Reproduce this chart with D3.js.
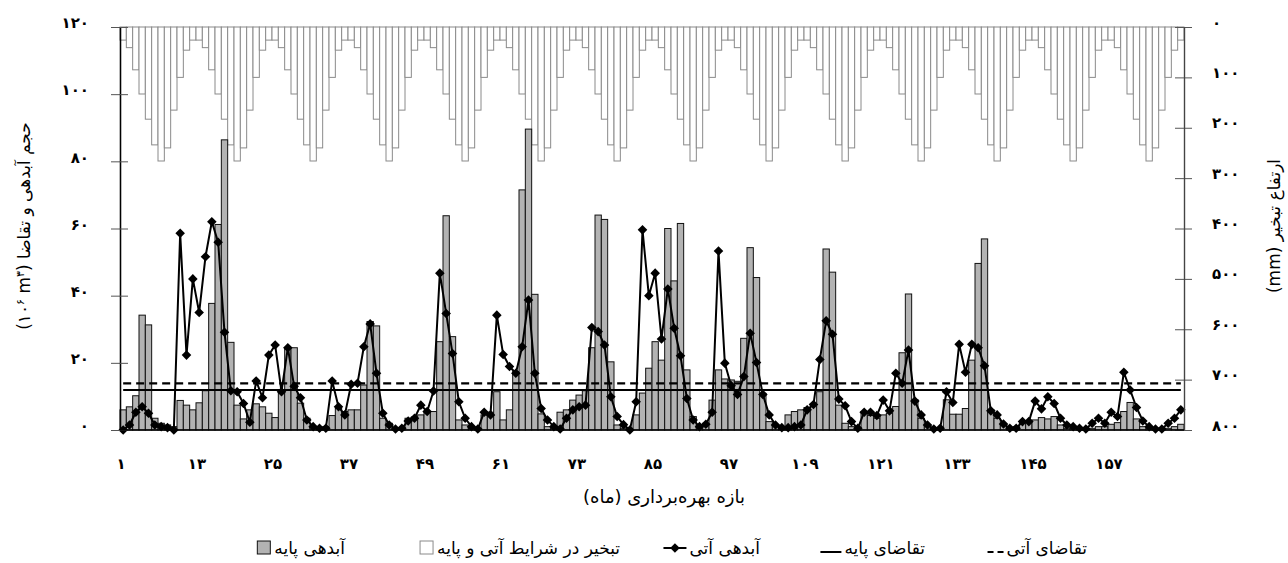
<!DOCTYPE html>
<html>
<head>
<meta charset="utf-8">
<script src="https://cdn.jsdelivr.net/npm/d3@7/dist/d3.min.js"></script>
<style>
  html, body { margin: 0; padding: 0; background: #fff; }
  svg { display: block; }
  text { font-family: "DejaVu Sans", "Noto Sans", sans-serif; fill: #000; }
</style>
</head>
<body>
<svg id="chart" width="1288" height="563"></svg>
<script>
// ---------------- DATA ----------------
const months = d3.range(1, 169);

// base inflow (gray bars), 10^6 m3
const baseInflow = [
  6.0, 6.9, 10.2, 34.2, 31.3, 3.5, 2.0, 1.5, 1.0, 8.8, 7.4, 6.0,
  8.1, 11.7, 37.7, 61.2, 86.4, 26.1, 7.4, 3.3, 6.0, 7.8, 6.9, 5.0,
  3.7, 11.0, 24.5, 24.5, 8.0, 3.5, 1.0, 0.5, 1.0, 4.3, 6.4, 5.5,
  6.0, 6.0, 13.4, 32.3, 31.0, 3.5, 2.0, 0.5, 0.5, 3.5, 3.9, 4.5,
  5.3, 5.5, 26.3, 63.8, 27.8, 3.0, 1.5, 0.5, 0.5, 4.5, 5.3, 11.4,
  3.0, 6.0, 17.4, 71.5, 89.6, 40.4, 4.8, 1.0, 1.0, 5.3, 6.0, 8.9,
  10.4, 11.7, 24.5, 64.0, 62.7, 20.3, 1.5, 0.5, 0.5, 4.5, 11.0, 18.4,
  26.3, 20.8, 60.0, 44.4, 61.5, 17.9, 4.0, 1.5, 2.0, 8.9, 17.9, 15.2,
  14.9, 14.5, 27.3, 54.3, 45.4, 10.9, 2.5, 1.5, 1.0, 4.5, 5.5, 6.0,
  6.7, 7.9, 11.4, 53.9, 47.0, 7.4, 2.0, 1.0, 0.5, 5.5, 4.3, 3.5,
  4.5, 5.0, 7.0, 23.0, 40.5, 9.0, 3.5, 1.5, 0.5, 0.5, 9.0, 4.7,
  4.7, 6.4, 20.8, 49.6, 56.9, 6.0, 3.5, 1.5, 0.5, 1.0, 2.0, 2.2,
  3.0, 3.7, 3.3, 4.0, 1.5, 0.5, 0.5, 0.5, 0.5, 0.5, 1.0, 1.0,
  1.7, 2.2, 5.5, 8.2, 3.3, 1.0, 0.5, 0.5, 0.5, 0.5, 1.0, 1.7
];

// future inflow (line with diamonds), 10^6 m3
const futureInflow = [
  0.0, 1.5, 5.3, 6.9, 5.0, 1.5, 1.0, 0.7, 0.0, 58.6, 22.3, 45.0,
  35.0, 51.6, 62.0, 55.9, 29.1, 11.7, 11.4, 7.9, 2.3, 14.6, 9.6, 22.3,
  25.3, 11.4, 24.5, 13.0, 9.6, 3.0, 1.0, 0.5, 0.5, 14.6, 6.9, 4.5,
  13.6, 13.9, 24.8, 31.6, 16.9, 5.0, 1.5, 0.3, 0.5, 2.7, 3.5, 7.4,
  5.5, 11.6, 46.7, 34.7, 22.8, 8.4, 3.5, 1.0, 0.3, 5.3, 4.5, 34.2,
  22.5, 18.9, 16.9, 24.8, 38.7, 16.9, 6.4, 3.0, 1.0, 0.3, 3.5, 6.0,
  6.9, 7.4, 30.5, 29.3, 25.3, 9.9, 4.0, 1.6, 0.0, 8.4, 59.6, 40.0,
  46.7, 27.1, 42.0, 30.3, 22.1, 9.4, 3.0, 1.0, 1.7, 5.3, 53.3, 19.9,
  13.2, 10.6, 15.9, 28.8, 20.1, 10.6, 4.5, 1.5, 0.7, 0.7, 1.0, 1.5,
  6.0, 7.6, 21.0, 32.5, 28.5, 9.2, 7.2, 2.5, 0.5, 5.3, 5.3, 4.3,
  8.9, 5.7, 16.9, 13.9, 23.8, 8.6, 4.5, 1.5, 0.3, 0.5, 11.4, 8.2,
  25.5, 17.2, 25.5, 24.5, 19.1, 5.7, 4.5, 1.8, 0.5, 0.5, 2.5, 2.5,
  8.6, 6.3, 9.9, 7.9, 3.5, 1.5, 1.0, 0.5, 0.3, 2.0, 3.5, 2.0,
  5.3, 4.0, 17.2, 11.9, 6.7, 2.7, 1.0, 0.3, 0.3, 2.0, 3.5, 6.0
];

// evaporation (mm), same in base and future conditions
const evaporation = [
  26, 41, 85, 133, 183, 234, 266, 240, 165, 100, 46, 26,
  26, 41, 85, 133, 183, 234, 266, 240, 165, 100, 46, 26,
  26, 41, 85, 133, 183, 234, 266, 240, 165, 100, 46, 26,
  26, 41, 85, 133, 183, 234, 266, 240, 165, 100, 46, 26,
  26, 41, 85, 133, 183, 234, 266, 240, 165, 100, 46, 26,
  26, 41, 85, 133, 183, 234, 266, 240, 165, 100, 46, 26,
  26, 41, 85, 133, 183, 234, 266, 240, 165, 100, 46, 26,
  26, 41, 85, 133, 183, 234, 266, 240, 165, 100, 46, 26,
  26, 41, 85, 133, 183, 234, 266, 240, 165, 100, 46, 26,
  26, 41, 85, 133, 183, 234, 266, 240, 165, 100, 46, 26,
  26, 41, 85, 133, 183, 234, 266, 240, 165, 100, 46, 26,
  26, 41, 85, 133, 183, 234, 266, 240, 165, 100, 46, 26,
  26, 41, 85, 133, 183, 234, 266, 240, 165, 100, 46, 26,
  26, 41, 85, 133, 183, 234, 266, 240, 165, 100, 46, 26
];

const baseDemand = 11.9;
const futureDemand = 13.9;

const xTickMonths = [1, 13, 25, 37, 49, 61, 73, 85, 97, 109, 121, 133, 145, 157];
const leftTicks = [0, 20, 40, 60, 80, 100, 120];
const rightTicks = [0, 100, 200, 300, 400, 500, 600, 700, 800];

const xTitle = "بازه بهره‌برداری (ماه)";
const rightTitle = "ارتفاع تبخیر";
const leftTitle = "حجم آبدهی و تقاضا";
const legendLabels = {
  base: "آبدهی پایه",
  evap: "تبخیر در شرایط آتی و پایه",
  future: "آبدهی آتی",
  baseDemand: "تقاضای پایه",
  futureDemand: "تقاضای آتی"
};

// ---------------- DRAW ----------------
const fa = n => String(n).replace(/\d/g, d => "۰۱۲۳۴۵۶۷۸۹"[+d]);

const svg = d3.select("#chart");
const L = 120, R = 1184, T = 27, B = 430;

const x = d3.scaleBand().domain(months).range([L, R]).padding(0);
const yL = d3.scaleLinear().domain([0, 120]).range([B, T]);
const yR = d3.scaleLinear().domain([0, 800]).range([T, B]);
const cx = m => x(m) + x.bandwidth() / 2;

// evaporation bars (hanging from top)
svg.append("g").selectAll("rect")
  .data(months)
  .join("rect")
  .attr("x", m => x(m))
  .attr("y", yR(0))
  .attr("width", x.bandwidth())
  .attr("height", (m, i) => yR(evaporation[i]) - yR(0))
  .attr("fill", "#fff")
  .attr("stroke", "#8a8a8a")
  .attr("stroke-width", 1);

// base inflow bars
svg.append("g").selectAll("rect")
  .data(months)
  .join("rect")
  .attr("x", m => x(m))
  .attr("y", (m, i) => yL(baseInflow[i]))
  .attr("width", x.bandwidth())
  .attr("height", (m, i) => yL(0) - yL(baseInflow[i]))
  .attr("fill", "#b3b3b3")
  .attr("stroke", "#111")
  .attr("stroke-width", 1);

// demand lines
const first = months[0], last = months[months.length - 1];
svg.append("line")
  .attr("x1", cx(first)).attr("x2", cx(last))
  .attr("y1", yL(baseDemand)).attr("y2", yL(baseDemand))
  .attr("stroke", "#000").attr("stroke-width", 2);
svg.append("line")
  .attr("x1", cx(first)).attr("x2", cx(last))
  .attr("y1", yL(futureDemand)).attr("y2", yL(futureDemand))
  .attr("stroke", "#000").attr("stroke-width", 2.2)
  .attr("stroke-dasharray", "8,5");

// future inflow line
const line = d3.line().x((d, i) => cx(months[i])).y(d => yL(d));
svg.append("path")
  .datum(futureInflow)
  .attr("d", line)
  .attr("fill", "none")
  .attr("stroke", "#000")
  .attr("stroke-width", 2)
  .attr("stroke-linejoin", "round");

const diamond = d3.symbol().type(d3.symbolSquare).size(46);
svg.append("g").selectAll("path")
  .data(futureInflow)
  .join("path")
  .attr("d", diamond)
  .attr("transform", (d, i) => `translate(${cx(months[i])},${yL(d)}) rotate(45)`)
  .attr("fill", "#000");

// left axis
const gl = svg.append("g").attr("transform", `translate(${L},0)`);
gl.call(d3.axisLeft(yL).tickValues(leftTicks).tickSizeInner(9).tickSizeOuter(0)
  .tickPadding(22).tickFormat(fa));
gl.append("g").call(d3.axisLeft(yL).tickValues(leftTicks).tickSizeInner(-8).tickSizeOuter(0).tickFormat(""));
gl.selectAll(".domain").attr("stroke", "#000").attr("stroke-width", 1.3);
gl.selectAll(".tick line").attr("stroke", "#555");
gl.selectAll(".tick text")
  .attr("font-size", 15).attr("font-weight", "bold")
  .attr("dy", "0.05em")
  .style("font-family", "'DejaVu Sans', sans-serif");

// right axis
const gr = svg.append("g").attr("transform", `translate(${R},0)`);
gr.call(d3.axisRight(yR).tickValues(rightTicks).tickSizeInner(8).tickSizeOuter(0)
  .tickPadding(20).tickFormat(fa));
gr.append("g").call(d3.axisRight(yR).tickValues(rightTicks).tickSizeInner(-9).tickSizeOuter(0).tickFormat(""));
gr.selectAll(".domain").attr("stroke", "#444").attr("stroke-width", 1.2);
gr.selectAll(".tick line").attr("stroke", "#555");
gr.selectAll(".tick text")
  .attr("font-size", 15).attr("font-weight", "bold")
  .attr("dy", "0.0em")
  .style("font-family", "'DejaVu Sans', sans-serif");

// bottom axis line
svg.append("line")
  .attr("x1", L).attr("x2", R).attr("y1", B).attr("y2", B)
  .attr("stroke", "#000").attr("stroke-width", 1.3);

// x tick labels
svg.append("g").selectAll("text")
  .data(xTickMonths)
  .join("text")
  .attr("x", m => x(m) + 1)
  .attr("y", 469)
  .attr("text-anchor", "middle")
  .attr("font-size", 15)
  .attr("font-weight", "bold")
  .text(fa);

// x title
svg.append("text")
  .attr("x", 664).attr("y", 503)
  .attr("text-anchor", "middle")
  .attr("font-size", 18)
  .text(xTitle);

// left title (rotated)
const lt = svg.append("text")
  .attr("transform", "translate(30,226) rotate(-90)")
  .attr("text-anchor", "middle")
  .attr("font-size", 17);
lt.append("tspan").text("(۱۰");
lt.append("tspan").attr("font-size", 11).attr("dy", -6).text("۶");
lt.append("tspan").attr("dy", 6).text(" m");
lt.append("tspan").attr("font-size", 11).attr("dy", -6).text("۳");
lt.append("tspan").attr("dy", 6).text(") " + leftTitle);

// right title (rotated)
svg.append("text")
  .attr("transform", "translate(1280,226) rotate(-90)")
  .attr("text-anchor", "middle")
  .attr("font-size", 17)
  .text("(mm) " + rightTitle);

// legend
const ly = 548;
const lg = svg.append("g");
function legendText(xEnd, label) {
  const t = lg.append("text")
    .attr("x", xEnd).attr("y", ly + 6)
    .attr("text-anchor", "end")
    .attr("font-size", 17)
    .text(label);
  return xEnd - t.node().getComputedTextLength();
}
// item 1: base inflow
let s = legendText(345, legendLabels.base);
lg.append("rect").attr("x", s - 17).attr("y", ly - 7).attr("width", 13).attr("height", 13)
  .attr("fill", "#b3b3b3").attr("stroke", "#111");
// item 2: evaporation
s = legendText(620, legendLabels.evap);
lg.append("rect").attr("x", s - 17).attr("y", ly - 7).attr("width", 13).attr("height", 13)
  .attr("fill", "#fff").attr("stroke", "#8a8a8a");
// item 3: future inflow
s = legendText(760, legendLabels.future);
lg.append("line").attr("x1", s - 26).attr("x2", s - 3).attr("y1", ly).attr("y2", ly)
  .attr("stroke", "#000").attr("stroke-width", 2);
lg.append("path").attr("d", diamond).attr("transform", `translate(${s - 14.5},${ly}) rotate(45)`);
// item 4: base demand
s = legendText(925, legendLabels.baseDemand);
lg.append("line").attr("x1", s - 24).attr("x2", s - 3).attr("y1", ly + 4).attr("y2", ly + 4)
  .attr("stroke", "#000").attr("stroke-width", 2);
// item 5: future demand
s = legendText(1087, legendLabels.futureDemand);
lg.append("line").attr("x1", s - 19).attr("x2", s - 3).attr("y1", ly + 4).attr("y2", ly + 4)
  .attr("stroke", "#000").attr("stroke-width", 2).attr("stroke-dasharray", "6,4");
</script>
</body>
</html>
